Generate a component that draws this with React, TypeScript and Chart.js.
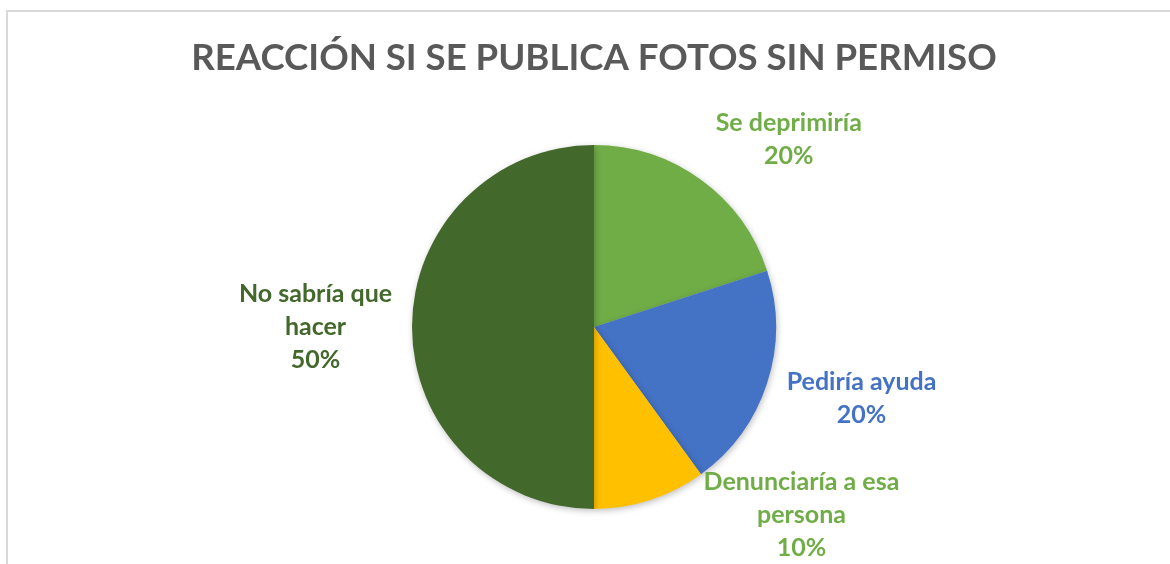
import React, { useEffect, useRef } from "react";
import { Chart, registerables } from "chart.js";

Chart.register(...registerables);

const TITLE = "REACCIÓN SI SE PUBLICA FOTOS SIN PERMISO";
const categories = ["Se deprimiría", "Pedirí ayuda", "Denunciaría a esa persona", "No sabría que hacer"];
const values = [20, 20, 10, 50];
const sliceColors = ["#70AD47", "#4472C4", "#FFC000", "#43682B"];
const labelColors = ["#70AD47", "#4472C4", "#70AD47", "#43682B"];
const labelLines = [["Se deprimiría"], ["Pediría ayuda"], ["Denunciaría a esa", "persona"], ["No sabría que", "hacer"]];
// label centre offsets relative to pie centre, in radius units
const labelOffsets = [[1.07, -1.03], [1.47, 0.39], [1.14, 1.03], [-1.53, 0]];

const FONT = "Lato, 'Noto Sans', sans-serif";

export default function App() {
  const ref = useRef<HTMLCanvasElement | null>(null);
  useEffect(() => {
    if (!ref.current) return;
    const total = values.reduce((a, b) => a + b, 0);
    const labelPlugin = {
      id: "customLabels",
      beforeDatasetsDraw(chart: any) {
        const ctx = chart.ctx;
        ctx.save();
        ctx.shadowColor = "rgba(0,0,0,0.25)";
        ctx.shadowBlur = 6;
        ctx.shadowOffsetX = 1;
        ctx.shadowOffsetY = 2;
      },
      afterDatasetsDraw(chart: any) {
        chart.ctx.restore();
      },
      afterDraw(chart: any) {
        const ctx = chart.ctx;
        ctx.save();
        ctx.fillStyle = "#595959";
        ctx.font = `bold 36.6px ${FONT}`;
        ctx.textAlign = "center";
        ctx.textBaseline = "middle";
        ctx.fillText(TITLE, 594, 58);
        const meta = chart.getDatasetMeta(0);
        meta.data.forEach((arc: any, i: number) => {
          const r = arc.outerRadius;
          const cx = arc.x + labelOffsets[i][0] * r;
          const cy = arc.y + labelOffsets[i][1] * r;
          const lines = [...labelLines[i], Math.round((values[i] / total) * 100) + "%"];
          const lh = 33;
          const y0 = cy - ((lines.length - 1) * lh) / 2;
          ctx.fillStyle = labelColors[i];
          ctx.font = `bold 25px ${FONT}`;
          lines.forEach((t, k) => ctx.fillText(t, cx, y0 + k * lh));
        });
        ctx.restore();
      },
    };
    const chart = new Chart(ref.current, {
      type: "pie",
      data: {
        labels: categories,
        datasets: [{ data: values, backgroundColor: sliceColors, borderWidth: 0 }],
      },
      options: {
        animation: false,
        responsive: false,
        layout: { padding: { top: 145, bottom: 55, left: 18, right: 0 } },
        plugins: { legend: { display: false }, tooltip: { enabled: false }, title: { display: false } },
      },
      plugins: [labelPlugin],
    });
    return () => chart.destroy();
  }, []);
  return (
    <div style={{ position: "fixed", left: 0, top: 0, width: 1170, height: 564, background: "#fff", overflow: "hidden" }}>
      <div style={{ position: "absolute", left: 6, top: 10, width: 1300, height: 700, border: "2px solid #d9d9d9", boxSizing: "border-box" }} />
      <canvas ref={ref} width={1170} height={564} style={{ position: "absolute", left: 0, top: 0, width: 1170, height: 564 }} />
    </div>
  );
}
